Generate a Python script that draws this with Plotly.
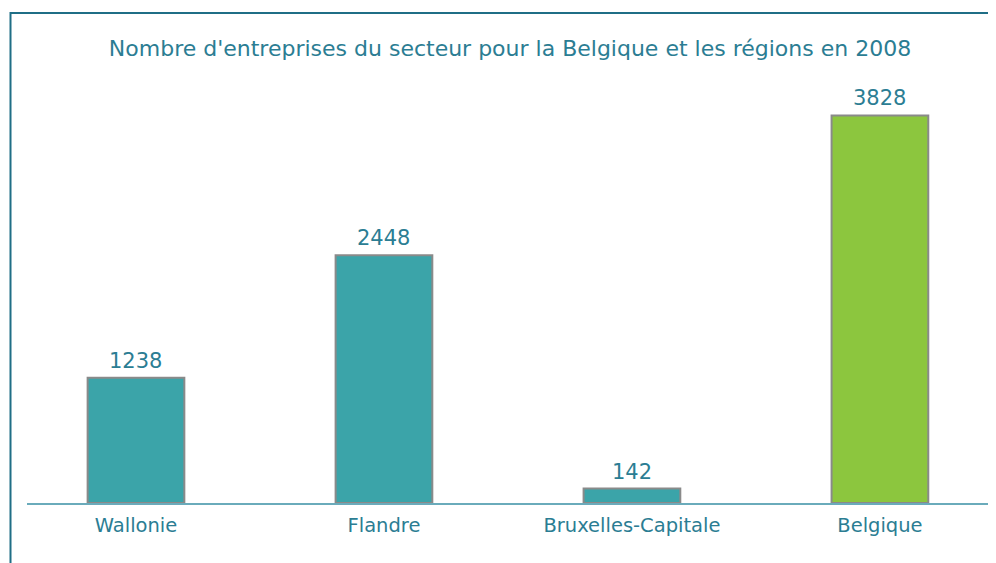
import plotly.graph_objects as go

categories = ["Wallonie", "Flandre", "Bruxelles-Capitale", "Belgique"]
values = [1238, 2448, 142, 3828]
colors = ["#3ba4a9", "#3ba4a9", "#3ba4a9", "#8cc63e"]
title = "Nombre d'entreprises du secteur pour la Belgique et les régions en 2008"

TXT = "#2b7d93"
OFF = 8  # page offset of the figure inside the browser window

fig = go.Figure(go.Bar(
    x=list(range(len(categories))), y=values,
    marker=dict(color=colors, line=dict(color="#8a8a8a", width=2)),
    width=0.39,
    cliponaxis=False,
))

for i, v in enumerate(values):
    fig.add_annotation(x=i, y=v, text=str(v), showarrow=False,
                       yanchor="bottom", yshift=3,
                       font=dict(family="DejaVu Sans", size=21, color=TXT))

W, H = 996 - OFF, 563 - OFF
l, r, t, b = 27 - OFF, 3, 98 - OFF, 60
fig.update_layout(
    width=W, height=H,
    margin=dict(l=l, r=r, t=t, b=b),
    paper_bgcolor="white", plot_bgcolor="white",
    showlegend=False,
    title=dict(text=title, x=(510 - OFF) / W, xanchor="center", y=1 - (48 - OFF) / H,
               yanchor="middle",
               font=dict(family="DejaVu Sans", size=22, color=TXT)),
    xaxis=dict(range=[-0.4395, 3.456], tickvals=list(range(len(categories))),
               ticktext=categories, showgrid=False, zeroline=False,
               showline=True, linecolor="#6aabbb", linewidth=2, ticks="",
               ticklabelstandoff=4,
               tickfont=dict(family="DejaVu Sans", size=19.5, color=TXT)),
    yaxis=dict(range=[0, 4000], visible=False, showgrid=False),
)

ph = H - t - b
pw = W - l - r
def px(xp):
    return (xp - OFF - l) / pw
def py(yp):
    return (H - b - (yp - OFF)) / ph

fig.add_shape(type="line", xref="paper", yref="paper",
              x0=px(10), x1=px(1000), y0=py(13), y1=py(13),
              line=dict(color="#1f6e86", width=2))
fig.add_shape(type="line", xref="paper", yref="paper",
              x0=px(10.5), x1=px(10.5), y0=py(12), y1=py(570),
              line=dict(color="#1f6e86", width=2))

fig.write_html("out.html")
